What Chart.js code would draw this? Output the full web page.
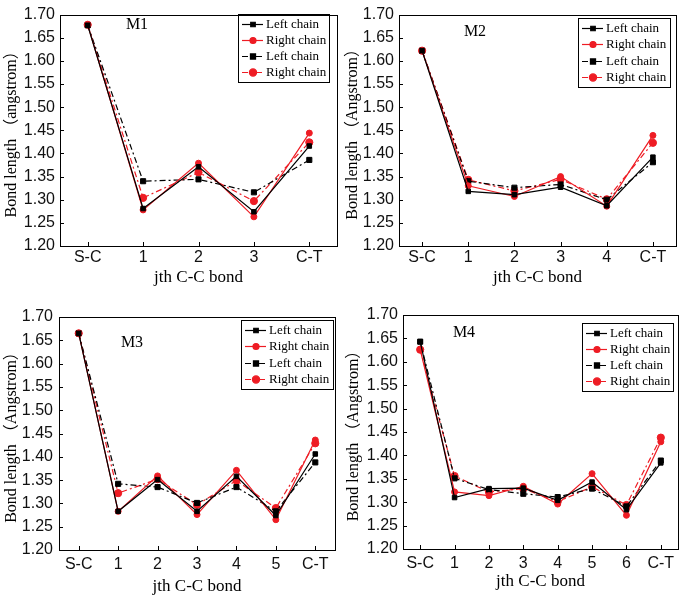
<!DOCTYPE html>
<html><head><meta charset="utf-8">
<script src="https://cdn.jsdelivr.net/npm/chart.js@4.4.0/dist/chart.umd.min.js"></script>
<style>
html,body{margin:0;padding:0;background:#fff;}
body{width:685px;height:602px;position:relative;overflow:hidden;}
canvas{position:absolute;}
</style></head><body>
<canvas id="c1" width="342" height="300" style="left:0px;top:0px"></canvas>
<canvas id="c2" width="343" height="300" style="left:342px;top:0px"></canvas>
<canvas id="c3" width="342" height="302" style="left:0px;top:300px"></canvas>
<canvas id="c4" width="343" height="302" style="left:342px;top:300px"></canvas>
<script>
// ---- data ----
const catsM1 = ['S-C','1','2','3','C-T'];
const catsM2 = ['S-C','1','2','3','4','C-T'];
const catsM3 = ['S-C','1','2','3','4','5','C-T'];
const catsM4 = ['S-C','1','2','3','4','5','6','C-T'];
const yTickValues = [1.20,1.25,1.30,1.35,1.40,1.45,1.50,1.55,1.60,1.65,1.70];
const seriesNames = ['Left chain','Right chain','Left chain','Right chain'];

const m1LeftSolid  = [1.677, 1.281, 1.371, 1.274, 1.416];
const m1RightSolid = [1.678, 1.278, 1.379, 1.263, 1.444];
const m1LeftDash   = [1.677, 1.340, 1.344, 1.316, 1.386];
const m1RightDash  = [1.678, 1.304, 1.359, 1.297, 1.424];

const m2LeftSolid  = [1.622, 1.318, 1.311, 1.327, 1.287, 1.392];
const m2RightSolid = [1.622, 1.330, 1.307, 1.350, 1.286, 1.439];
const m2LeftDash   = [1.622, 1.340, 1.326, 1.333, 1.300, 1.381];
const m2RightDash  = [1.622, 1.343, 1.319, 1.344, 1.301, 1.423];

const m3LeftSolid  = [1.665, 1.283, 1.351, 1.283, 1.358, 1.274, 1.406];
const m3RightSolid = [1.665, 1.283, 1.359, 1.276, 1.371, 1.265, 1.436];
const m3LeftDash   = [1.665, 1.342, 1.335, 1.301, 1.335, 1.283, 1.388];
const m3RightDash  = [1.665, 1.322, 1.352, 1.297, 1.349, 1.290, 1.429];

const m4LeftSolid  = [1.643, 1.310, 1.329, 1.330, 1.304, 1.343, 1.284, 1.384];
const m4RightSolid = [1.626, 1.322, 1.314, 1.334, 1.296, 1.361, 1.272, 1.429];
const m4LeftDash   = [1.643, 1.351, 1.327, 1.318, 1.311, 1.329, 1.291, 1.389];
const m4RightDash  = [1.626, 1.356, 1.322, 1.329, 1.301, 1.333, 1.294, 1.438];

// ---- styles ----
const RED = '#ee1c24';
const SERIF = "'Liberation Serif','Times New Roman','Noto Sans CJK SC',serif";
const SANS = "'Liberation Sans',Arial,sans-serif";
const styles = [
  {borderColor:'#000', backgroundColor:'#000', pointStyle:'rect', pointRadius:3.2, borderDash:[]},
  {borderColor:RED, backgroundColor:RED, pointStyle:'circle', pointRadius:3, borderDash:[]},
  {borderColor:'#000', backgroundColor:'#000', pointStyle:'rect', pointRadius:3.6, borderDash:[6,3,2,3]},
  {borderColor:RED, backgroundColor:RED, pointStyle:'circle', pointRadius:3.6, borderDash:[6,3,2,3]}
];

const framePlugin = {
  id: 'frame',
  afterDraw(chart, args, o) {
    const {ctx, chartArea: a} = chart;
    const xs = chart.scales.x, ys = chart.scales.y;
    ctx.save();
    ctx.strokeStyle = '#000'; ctx.lineWidth = 1; ctx.setLineDash([]);
    ctx.strokeRect(Math.round(a.left)+0.5, Math.round(a.top)+0.5, Math.round(a.right-a.left), Math.round(a.bottom-a.top));
    ctx.beginPath();
    xs.ticks.forEach((t,i) => { const px = Math.round(xs.getPixelForTick(i))+0.5; ctx.moveTo(px, a.bottom); ctx.lineTo(px, a.bottom-4); });
    ys.ticks.forEach((t,i) => { const py = Math.round(ys.getPixelForTick(i))+0.5; ctx.moveTo(a.left, py); ctx.lineTo(a.left+4, py); });
    ctx.stroke();
    // panel label
    ctx.fillStyle = '#000';
    ctx.font = '16px ' + SERIF;
    ctx.textAlign = 'center'; ctx.textBaseline = 'middle';
    ctx.fillText(o.label, o.labelX, o.labelY);
    // legend
    const b = o.box;
    ctx.lineWidth = 1;
    ctx.strokeRect(b.x+0.5, b.y+0.5, b.w, b.h);
    const gap = (b.h - 20) / 3;
    ctx.font = '13px ' + SERIF;
    ctx.textAlign = 'left';
    chart.data.datasets.forEach((ds, i) => {
      const cy = Math.round(b.y + 10 + i*gap) + 0.5;
      ctx.strokeStyle = ds.borderColor; ctx.lineWidth = ds.borderWidth;
      ctx.setLineDash(ds.borderDash || []);
      ctx.beginPath(); ctx.moveTo(b.x+4, cy); ctx.lineTo(b.x+25, cy); ctx.stroke();
      ctx.setLineDash([]);
      ctx.fillStyle = ds.backgroundColor; ctx.strokeStyle = ds.borderColor;
      Chart.helpers.drawPoint(ctx, {pointStyle: ds.pointStyle, radius: ds.pointRadius, borderWidth: 1, rotation: 0}, b.x+15, cy);
      ctx.fillStyle = '#000';
      ctx.fillText(ds.label, b.x+28, cy);
    });
    ctx.restore();
  }
};

function makeChart(id, cats, series, cfg) {
  const datasets = series.map((d, i) => Object.assign({
    label: seriesNames[i], data: d, borderWidth: 1.2, pointBorderWidth: 1,
    pointBackgroundColor: styles[i].backgroundColor, pointBorderColor: styles[i].borderColor,
    tension: 0, fill: false
  }, styles[i]));
  return new Chart(document.getElementById(id), {
    type: 'line',
    data: {labels: cats, datasets},
    plugins: [framePlugin],
    options: {
      responsive: false, animation: false, devicePixelRatio: 1,
      layout: {padding: {top: cfg.top, right: cfg.right, left: 0, bottom: 0}},
      plugins: {
        legend: {display: false}, tooltip: {enabled: false},
        frame: {label: cfg.label, labelX: cfg.labelX, labelY: cfg.labelY, box: cfg.box}
      },
      scales: {
        x: {
          type: 'category', offset: true,
          grid: {display: false, drawTicks: false}, border: {display: false},
          ticks: {color: '#111', font: {family: SANS, size: 16}, padding: cfg.xPad, autoSkip: false, maxRotation: 0},
          title: {display: true, text: 'jth C-C bond', color: '#000', font: {family: SERIF, size: 17}, padding: {top: 0, bottom: cfg.xTitlePad}},
          afterFit: s => { s.height = cfg.xH; }
        },
        y: {
          min: 1.2, max: 1.7,
          grid: {display: false, drawTicks: false}, border: {display: false},
          afterBuildTicks: s => { s.ticks = yTickValues.map(v => ({value: v})); },
          ticks: {color: '#111', font: {family: SANS, size: 16}, padding: cfg.yPad, callback: v => Number(v).toFixed(2)},
          title: {display: true, text: cfg.yTitle, color: '#000', font: {family: SERIF, size: 16}, padding: {top: cfg.yTitlePad, bottom: 0}},
          afterFit: s => { s.width = cfg.yW; }
        }
      }
    }
  });
}

makeChart('c1', catsM1, [m1LeftSolid, m1RightSolid, m1LeftDash, m1RightDash], {
  top: 12, right: 5, xH: 54, yW: 60, xPad: 2, xTitlePad: 12, yPad: 5, yTitlePad: 2,
  yTitle: 'Bond length （angstrom）', label: 'M1', labelX: 137, labelY: 25,
  box: {x: 238, y: 14, w: 91, h: 68}
});
makeChart('c2', catsM2, [m2LeftSolid, m2RightSolid, m2LeftDash, m2RightDash], {
  top: 12, right: 9, xH: 54, yW: 57, xPad: 2, xTitlePad: 12, yPad: 5, yTitlePad: 1,
  yTitle: 'Bond length （Angstrom）', label: 'M2', labelX: 133, labelY: 32,
  box: {x: 236, y: 18, w: 92, h: 69}
});
makeChart('c3', catsM3, [m3LeftSolid, m3RightSolid, m3LeftDash, m3RightDash], {
  top: 17, right: 7, xH: 52, yW: 59, xPad: 5, xTitlePad: 5, yPad: 6, yTitlePad: 2,
  yTitle: 'Bond length （Angstrom）', label: 'M3', labelX: 132, labelY: 43,
  box: {x: 241, y: 20, w: 92, h: 69}
});
makeChart('c4', catsM4, [m4LeftSolid, m4RightSolid, m4LeftDash, m4RightDash], {
  top: 15, right: 7, xH: 53, yW: 61, xPad: 5, xTitlePad: 10, yPad: 5, yTitlePad: 2,
  yTitle: 'Bond length （Angstrom）', label: 'M4', labelX: 122, labelY: 33,
  box: {x: 240, y: 23, w: 91, h: 68}
});
</script>
</body></html>
